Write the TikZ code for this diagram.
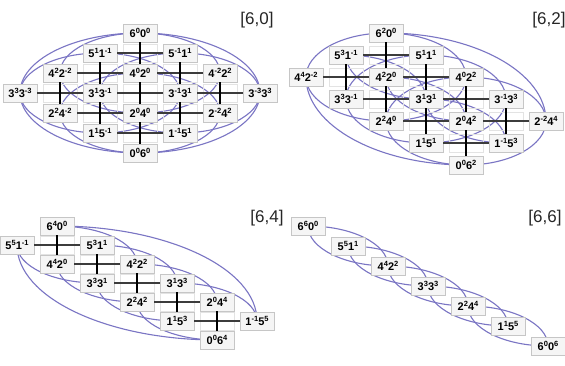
\documentclass[tikz,border=0pt]{standalone}
\usepackage{fontspec}
\setmainfont{Liberation Sans}
\usetikzlibrary{backgrounds}
\definecolor{weave}{RGB}{122,117,196}
\definecolor{rungcol}{RGB}{60,60,60}
\tikzset{lvl/.style={draw=gray!45,fill=gray!8,minimum width=34pt,minimum height=18pt,inner sep=0pt,font=\bfseries\fontsize{11}{11}\selectfont},
  ghost/.style={draw=gray!22,minimum width=34pt,minimum height=18pt,inner sep=0pt},
  rung/.style={rungcol,line width=1.2pt},
  bar/.style={black,line width=2.8pt},
  braid/.style={weave,line width=1.1pt},
  tag/.style={font=\fontsize{17}{17}\selectfont,text=black!85}}
\newcommand\lab[4]{#1\raisebox{.42em}{\fontsize{7.5}{7.5}\selectfont#2}#3\raisebox{.42em}{\fontsize{7.5}{7.5}\selectfont#4}}

\begin{document}
\begin{tikzpicture}[x=1pt,y=1pt]
\useasboundingbox (0,0) rectangle (565,-366);
\begin{scope}[on background layer]
\fill[white] (0,0) rectangle (565,-366);
\end{scope}

% [6,0]
\node[tag] (t60) at (257,-20) {[6,0]};
\begin{scope}[shift={(140,-33)}]
\foreach \a/\m in {6/0,5/1,5/-1,4/2,4/0,4/-2,3/3,3/1,3/-1,3/-3,2/2,2/0,2/-2,1/1,1/-1,0/0}{
  \pgfmathtruncatemacro\bb{6-\a}\pgfmathtruncatemacro\nn{0-\m}
  \node[lvl] (p\a\m) at ({-40*\m},{-20*(6-\a)}) {\lab{\a}{\m}{\bb}{\nn}};
}
\foreach \a/\m in {5/0,4/1,4/-1,3/2,3/0,3/-2,2/1,2/-1,1/0}{
  \pgfmathtruncatemacro\ml{\m+1}\pgfmathtruncatemacro\mr{\m-1}
  \pgfmathtruncatemacro\au{\a+1}\pgfmathtruncatemacro\ad{\a-1}
  \node[ghost] (pc\a\m) at ({-40*\m},{-20*(6-\a)}) {};
  \draw[rung] (p\a\ml) -- (p\a\mr);
  \draw[bar] (p\au\m) -- (p\ad\m);
}
\end{scope}
\begin{scope}[on background layer]
\foreach \s/\t/\k in {60/4-2/2,5-1/3-3/2,51/3-1/2,40/2-2/2,60/3-3/3}
  \draw[braid] (p\s.center) .. controls +({22.1*\k},0) and +(0,{11*\k}) .. (p\t.center);
\foreach \s/\t/\k in {42/20/2,31/1-1/2,33/11/2,22/00/2,33/00/3}
  \draw[braid] (p\s.center) .. controls +(0,{-11*\k}) and +({-22.1*\k},0) .. (p\t.center);
\foreach \s/\t/\k in {60/42/2,51/33/2,5-1/31/2,40/22/2,60/33/3}
  \draw[braid] (p\s.center) .. controls +({-22.1*\k},0) and +(0,{11*\k}) .. (p\t.center);
\foreach \s/\t/\k in {4-2/20/2,3-1/11/2,3-3/1-1/2,2-2/00/2,3-3/00/3}
  \draw[braid] (p\s.center) .. controls +(0,{-11*\k}) and +({22.1*\k},0) .. (p\t.center);
\end{scope}

% [6,2]
\node[tag] (t62) at (549,-20) {[6,2]};
\begin{scope}[shift={(466,-33)}]
\foreach \a/\m in {6/2,5/3,5/1,4/4,4/2,4/0,3/3,3/1,3/-1,2/2,2/0,2/-2,1/1,1/-1,0/0}{
  \pgfmathtruncatemacro\bb{6-\a}\pgfmathtruncatemacro\nn{2-\m}
  \node[lvl] (q\a\m) at ({-40*\m},{-22*(6-\a)}) {\lab{\a}{\m}{\bb}{\nn}};
}
\foreach \a/\m in {5/2,4/3,4/1,3/2,3/0,2/1,2/-1,1/0}{
  \pgfmathtruncatemacro\ml{\m+1}\pgfmathtruncatemacro\mr{\m-1}
  \pgfmathtruncatemacro\au{\a+1}\pgfmathtruncatemacro\ad{\a-1}
  \node[ghost] (qc\a\m) at ({-40*\m},{-22*(6-\a)}) {};
  \draw[rung] (q\a\ml) -- (q\a\mr);
  \draw[bar] (q\au\m) -- (q\ad\m);
}
\end{scope}
\begin{scope}[on background layer]
\foreach \s/\t/\k in {62/40/2,51/3-1/2,40/2-2/2,62/2-2/4,53/31/2,42/20/2,31/1-1/2}
  \draw[braid] (q\s.center) .. controls +({22.1*\k},0) and +(0,{12.1*\k}) .. (q\t.center);
\foreach \s/\t/\k in {44/22/2,33/11/2,22/00/2,44/00/4,53/31/2,42/20/2,31/1-1/2}
  \draw[braid] (q\s.center) .. controls +(0,{-12.1*\k}) and +({-22.1*\k},0) .. (q\t.center);
\foreach \s/\t/\k in {62/44/2,51/33/2,40/22/2}
  \draw[braid] (q\s.center) .. controls +({-22.1*\k},0) and +(0,{12.1*\k}) .. (q\t.center);
\foreach \s/\t/\k in {40/22/2,3-1/11/2,2-2/00/2}
  \draw[braid] (q\s.center) .. controls +(0,{-12.1*\k}) and +({22.1*\k},0) .. (q\t.center);
\end{scope}

% [6,4]
\node[tag] (t64) at (267,-218) {[6,4]};
\begin{scope}[shift={(217,-226)}]
\foreach \a/\m in {6/4,5/5,5/3,4/4,4/2,3/3,3/1,2/2,2/0,1/1,1/-1,0/0}{
  \pgfmathtruncatemacro\bb{6-\a}\pgfmathtruncatemacro\nn{4-\m}
  \node[lvl] (r\a\m) at ({-40*\m},{-19*(6-\a)}) {\lab{\a}{\m}{\bb}{\nn}};
}
\foreach \a/\m in {5/4,4/3,3/2,2/1,1/0}{
  \pgfmathtruncatemacro\ml{\m+1}\pgfmathtruncatemacro\mr{\m-1}
  \pgfmathtruncatemacro\au{\a+1}\pgfmathtruncatemacro\ad{\a-1}
  \node[ghost] (rc\a\m) at ({-40*\m},{-19*(6-\a)}) {};
  \draw[rung] (r\a\ml) -- (r\a\mr);
  \draw[bar] (r\au\m) -- (r\ad\m);
}
\end{scope}
\begin{scope}[on background layer]
\foreach \s/\t/\k in {64/42/2,53/31/2,42/20/2,31/1-1/2,64/1-1/5}
  \draw[braid] (r\s.center) .. controls +({22.1*\k},0) and +(0,{10.5*\k}) .. (r\t.center);
\foreach \s/\t/\k in {55/33/2,44/22/2,33/11/2,22/00/2,55/00/5}
  \draw[braid] (r\s.center) .. controls +(0,{-10.5*\k}) and +({-22.1*\k},0) .. (r\t.center);
\end{scope}

% [6,6]
\node[tag] (t66) at (545,-218) {[6,6]};
\begin{scope}[shift={(548,-226)}]
\foreach \a in {6,5,4,3,2,1}{
  \pgfmathtruncatemacro\bb{6-\a}
  \node[lvl] (s\a\a) at ({-40*\a},{-20*(6-\a)}) {\lab{\a}{\a}{\bb}{\bb}};
}
\node[lvl] (s00) at (0,-120) {\lab{6}{0}{0}{6}};
\end{scope}
\begin{scope}[on background layer]
\foreach \s/\t in {66/44,55/33,44/22,33/11,22/00}{
  \draw[braid] (s\s.center) .. controls +(44.2,0) and +(0,22) .. (s\t.center);
  \draw[braid] (s\s.center) .. controls +(0,-22) and +(-44.2,0) .. (s\t.center);
}
\end{scope}
\end{tikzpicture}
\end{document}
